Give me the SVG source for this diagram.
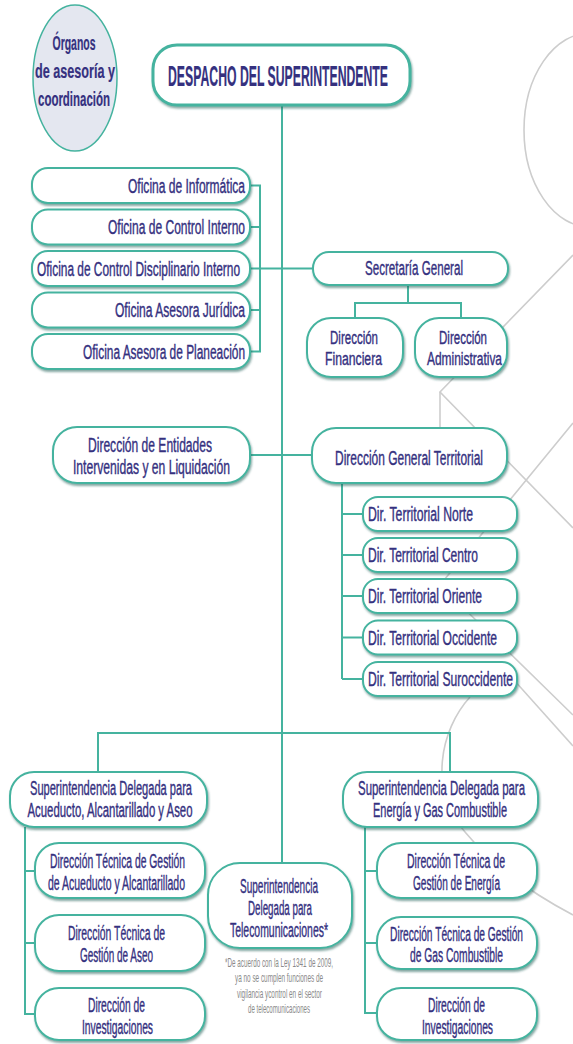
<svg xmlns="http://www.w3.org/2000/svg" width="573" height="1044" viewBox="0 0 573 1044">
<defs>
<filter id="sh" x="-10%" y="-20%" width="120%" height="150%">
<feDropShadow dx="1" dy="2" stdDeviation="1" flood-color="#1f5f55" flood-opacity="0.55"/>
</filter>
<style>
.bg{fill:none;stroke:#cdcdcd;stroke-width:1.6}
.box{fill:#fff;stroke:#45b39f;stroke-width:2;filter:url(#sh)}
.c{fill:none;stroke:#45b39f;stroke-width:2}
.t{font-family:"Liberation Sans",Arial,sans-serif;font-size:19.5px;fill:#35317f;stroke:#35317f;stroke-width:0.4}
.s{font-size:18px}
.m{text-anchor:middle}
.r{text-anchor:end}
.b{font-weight:bold;stroke-width:0.2}
.n{font-family:"Liberation Sans",Arial,sans-serif;font-size:12px;fill:#8a8a8a;text-anchor:middle}
</style>
</defs>
<rect width="573" height="1044" fill="#fff"/>
<g id="background">
<ellipse class="bg" cx="590" cy="130" rx="66" ry="97"/>
<polyline class="bg" points="573,255 440,392 573,528"/>
<line class="bg" x1="440" y1="392" x2="440" y2="430"/>
<polyline class="bg" points="573,423 440,585 573,715"/>
<line class="bg" x1="505" y1="670" x2="573" y2="746"/>
<path class="bg" d="M470 697 C440 730 428 790 465 832 C495 868 535 895 573 915"/>
</g>
<g id="connectors">
<line class="c" x1="282" y1="105" x2="282" y2="733"/>
<polyline class="c" points="250,185.5 260,185.5 260,351.5 250,351.5"/>
<line class="c" x1="250" y1="227" x2="260" y2="227"/>
<line class="c" x1="250" y1="310" x2="260" y2="310"/>
<line class="c" x1="250" y1="268.5" x2="313" y2="268.5"/>
<line class="c" x1="408" y1="285" x2="408" y2="303"/>
<polyline class="c" points="355,318 355,303 461,303 461,318"/>
<line class="c" x1="250" y1="455" x2="312" y2="455"/>
<line class="c" x1="342" y1="483" x2="342" y2="679"/>
<line class="c" x1="342" y1="514" x2="363" y2="514"/>
<line class="c" x1="342" y1="555" x2="363" y2="555"/>
<line class="c" x1="342" y1="596" x2="363" y2="596"/>
<line class="c" x1="342" y1="637.5" x2="363" y2="637.5"/>
<line class="c" x1="342" y1="679" x2="363" y2="679"/>
<polyline class="c" points="98,772 98,733 450,733 450,772"/>
<line class="c" x1="282" y1="733" x2="282" y2="863"/>
<polyline class="c" points="25,827 25,1014 35,1014"/>
<line class="c" x1="25" y1="871" x2="35" y2="871"/>
<line class="c" x1="25" y1="943" x2="35" y2="943"/>
<polyline class="c" points="365,827 365,1013 377,1013"/>
<line class="c" x1="365" y1="871" x2="377" y2="871"/>
<line class="c" x1="365" y1="943" x2="377" y2="943"/>
</g>
<g id="organos">
<ellipse cx="75" cy="78" rx="42" ry="73" fill="#e4e7f0" stroke="#45b39f" stroke-width="1.5"/>
<text class="t b m" style="font-size:21px" transform="translate(74,50) scale(0.67,1)" textLength="64.2" lengthAdjust="spacingAndGlyphs">Órganos</text>
<text class="t b m" style="font-size:21px" transform="translate(75,78) scale(0.67,1)" textLength="119.4" lengthAdjust="spacingAndGlyphs">de asesoría y</text>
<text class="t b m" style="font-size:21px" transform="translate(74,106) scale(0.67,1)" textLength="107.5" lengthAdjust="spacingAndGlyphs">coordinación</text>
</g>
<g id="despacho">
<rect class="box" x="153" y="45" width="257" height="60" rx="24" style="stroke-width:3"/>
<text class="t b m" style="font-size:30px" transform="translate(278,86) scale(0.5,1)" textLength="440" lengthAdjust="spacingAndGlyphs">DESPACHO DEL SUPERINTENDENTE</text>
</g>
<g id="of-informatica">
<rect class="box" x="32" y="168" width="218" height="35" rx="16"/>
<text class="t r" transform="translate(245,192.5) scale(0.66,1)" textLength="177.3" lengthAdjust="spacingAndGlyphs">Oficina de Informática</text>
</g>
<g id="of-control-interno">
<rect class="box" x="32" y="209.5" width="218" height="35" rx="16"/>
<text class="t r" transform="translate(245,234) scale(0.66,1)" textLength="207.6" lengthAdjust="spacingAndGlyphs">Oficina de Control Interno</text>
</g>
<g id="of-disciplinario">
<rect class="box" x="32" y="251" width="218" height="35" rx="16"/>
<text class="t m" transform="translate(138.5,275.5) scale(0.66,1)" textLength="307.6" lengthAdjust="spacingAndGlyphs">Oficina de Control Disciplinario Interno</text>
</g>
<g id="of-juridica">
<rect class="box" x="32" y="292.5" width="218" height="35" rx="16"/>
<text class="t r" transform="translate(245,317) scale(0.66,1)" textLength="197" lengthAdjust="spacingAndGlyphs">Oficina Asesora Jurídica</text>
</g>
<g id="of-planeacion">
<rect class="box" x="32" y="334" width="218" height="35" rx="16"/>
<text class="t r" transform="translate(245,358.5) scale(0.66,1)" textLength="245.5" lengthAdjust="spacingAndGlyphs">Oficina Asesora de Planeación</text>
</g>
<g id="secretaria">
<rect class="box" x="313" y="252" width="195" height="33" rx="16"/>
<text class="t m" transform="translate(414,274.5) scale(0.66,1)" textLength="148.5" lengthAdjust="spacingAndGlyphs">Secretaría General</text>
</g>
<g id="dir-financiera">
<rect class="box" x="307" y="318" width="96" height="59" rx="24"/>
<text class="t s m" transform="translate(354,344) scale(0.66,1)" textLength="72.7" lengthAdjust="spacingAndGlyphs">Dirección</text>
<text class="t s m" transform="translate(353.5,364.5) scale(0.66,1)" textLength="86.4" lengthAdjust="spacingAndGlyphs">Financiera</text>
</g>
<g id="dir-administrativa">
<rect class="box" x="415" y="318" width="92" height="59" rx="24"/>
<text class="t s m" transform="translate(463,344) scale(0.66,1)" textLength="72.7" lengthAdjust="spacingAndGlyphs">Dirección</text>
<text class="t s m" transform="translate(464.5,364.5) scale(0.66,1)" textLength="113.6" lengthAdjust="spacingAndGlyphs">Administrativa</text>
</g>
<g id="dir-entidades">
<rect class="box" x="53" y="427" width="197" height="56" rx="24"/>
<text class="t m" transform="translate(150,452) scale(0.66,1)" textLength="187.9" lengthAdjust="spacingAndGlyphs">Dirección de Entidades</text>
<text class="t m" transform="translate(151.5,474) scale(0.66,1)" textLength="237.9" lengthAdjust="spacingAndGlyphs">Intervenidas y en Liquidación</text>
</g>
<g id="dir-general-territorial">
<rect class="box" x="312" y="428" width="195" height="55" rx="24"/>
<text class="t m" transform="translate(409,465) scale(0.66,1)" textLength="224.2" lengthAdjust="spacingAndGlyphs">Dirección General Territorial</text>
</g>
<g id="dt-norte">
<rect class="box" x="363" y="497" width="154" height="34" rx="15"/>
<text class="t" transform="translate(368,521) scale(0.66,1)" textLength="159.1" lengthAdjust="spacingAndGlyphs">Dir. Territorial Norte</text>
</g>
<g id="dt-centro">
<rect class="box" x="363" y="538" width="154" height="34" rx="15"/>
<text class="t" transform="translate(368,562) scale(0.66,1)" textLength="166.7" lengthAdjust="spacingAndGlyphs">Dir. Territorial Centro</text>
</g>
<g id="dt-oriente">
<rect class="box" x="363" y="579" width="154" height="34" rx="15"/>
<text class="t" transform="translate(368,603) scale(0.66,1)" textLength="172.7" lengthAdjust="spacingAndGlyphs">Dir. Territorial Oriente</text>
</g>
<g id="dt-occidente">
<rect class="box" x="363" y="620.5" width="154" height="34" rx="15"/>
<text class="t" transform="translate(368,644.5) scale(0.66,1)" textLength="195.5" lengthAdjust="spacingAndGlyphs">Dir. Territorial Occidente</text>
</g>
<g id="dt-suroccidente">
<rect class="box" x="363" y="662" width="154" height="34" rx="15"/>
<text class="t" transform="translate(368,686) scale(0.66,1)" textLength="219.7" lengthAdjust="spacingAndGlyphs">Dir. Territorial Suroccidente</text>
</g>
<g id="sd-acueducto">
<rect class="box" x="10" y="772" width="197" height="55" rx="24"/>
<text class="t m" transform="translate(111,795) scale(0.66,1)" textLength="245.5" lengthAdjust="spacingAndGlyphs">Superintendencia Delegada para</text>
<text class="t m" transform="translate(110,817) scale(0.66,1)" textLength="250" lengthAdjust="spacingAndGlyphs">Acueducto, Alcantarillado y Aseo</text>
</g>
<g id="dtg-acueducto">
<rect class="box" x="35" y="843" width="170" height="55" rx="24"/>
<text class="t m" transform="translate(117.5,868) scale(0.66,1)" textLength="204.5" lengthAdjust="spacingAndGlyphs">Dirección Técnica de Gestión</text>
<text class="t m" transform="translate(116.5,890) scale(0.66,1)" textLength="207.6" lengthAdjust="spacingAndGlyphs">de Acueducto y Alcantarillado</text>
</g>
<g id="dtg-aseo">
<rect class="box" x="35" y="915" width="170" height="56" rx="24"/>
<text class="t m" transform="translate(116.5,940) scale(0.66,1)" textLength="147" lengthAdjust="spacingAndGlyphs">Dirección Técnica de</text>
<text class="t m" transform="translate(116.5,962) scale(0.66,1)" textLength="110.6" lengthAdjust="spacingAndGlyphs">Gestión de Aseo</text>
</g>
<g id="di-acueducto">
<rect class="box" x="35" y="988" width="170" height="52" rx="24"/>
<text class="t m" transform="translate(116.5,1012) scale(0.66,1)" textLength="86.4" lengthAdjust="spacingAndGlyphs">Dirección de</text>
<text class="t m" transform="translate(117.5,1034) scale(0.66,1)" textLength="107.6" lengthAdjust="spacingAndGlyphs">Investigaciones</text>
</g>
<g id="sd-telecom">
<rect class="box" x="208" y="863" width="144" height="85" rx="32"/>
<text class="t m" transform="translate(279,893) scale(0.66,1)" textLength="118.2" lengthAdjust="spacingAndGlyphs">Superintendencia</text>
<text class="t m" transform="translate(280,915) scale(0.66,1)" textLength="97" lengthAdjust="spacingAndGlyphs">Delegada para</text>
<text class="t m" transform="translate(279,937) scale(0.66,1)" textLength="148.5" lengthAdjust="spacingAndGlyphs">Telecomunicaciones*</text>
</g>
<g id="nota">
<text class="n" transform="translate(279,967) scale(0.55,1)" textLength="196.4" lengthAdjust="spacingAndGlyphs">*De acuerdo con la Ley 1341 de 2009,</text>
<text class="n" transform="translate(279,982) scale(0.55,1)" textLength="160" lengthAdjust="spacingAndGlyphs">ya no se cumplen funciones de</text>
<text class="n" transform="translate(279.5,998) scale(0.55,1)" textLength="154.5" lengthAdjust="spacingAndGlyphs">vigilancia ycontrol en el sector</text>
<text class="n" transform="translate(279,1013) scale(0.55,1)" textLength="112.7" lengthAdjust="spacingAndGlyphs">de telecomunicaciones</text>
</g>
<g id="sd-energia">
<rect class="box" x="343" y="772" width="195" height="55" rx="24"/>
<text class="t m" transform="translate(441.5,795) scale(0.66,1)" textLength="253" lengthAdjust="spacingAndGlyphs">Superintendencia Delegada para</text>
<text class="t m" transform="translate(440,817) scale(0.66,1)" textLength="203" lengthAdjust="spacingAndGlyphs">Energía y Gas Combustible</text>
</g>
<g id="dtg-energia">
<rect class="box" x="377" y="843" width="160" height="55" rx="24"/>
<text class="t m" transform="translate(456,868) scale(0.66,1)" textLength="148.5" lengthAdjust="spacingAndGlyphs">Dirección Técnica de</text>
<text class="t m" transform="translate(456.5,890) scale(0.66,1)" textLength="131.8" lengthAdjust="spacingAndGlyphs">Gestión de Energía</text>
</g>
<g id="dtg-gas">
<rect class="box" x="377" y="917" width="160" height="52" rx="24"/>
<text class="t m" transform="translate(456.5,941) scale(0.66,1)" textLength="201.5" lengthAdjust="spacingAndGlyphs">Dirección Técnica de Gestión</text>
<text class="t m" transform="translate(456.5,962) scale(0.66,1)" textLength="140.9" lengthAdjust="spacingAndGlyphs">de Gas Combustible</text>
</g>
<g id="di-energia">
<rect class="box" x="377" y="988" width="160" height="52" rx="24"/>
<text class="t m" transform="translate(456.5,1012) scale(0.66,1)" textLength="86.4" lengthAdjust="spacingAndGlyphs">Dirección de</text>
<text class="t m" transform="translate(457.5,1034) scale(0.66,1)" textLength="107.6" lengthAdjust="spacingAndGlyphs">Investigaciones</text>
</g>
</svg>
